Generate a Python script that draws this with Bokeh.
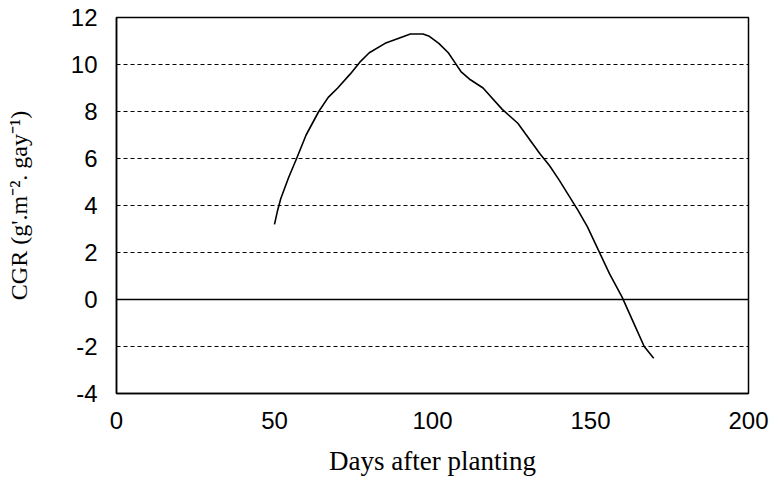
from bokeh.plotting import figure
from bokeh.models import FixedTicker, Span, Range1d
from bokeh.embed import file_html
from bokeh.resources import INLINE

days = [50, 51, 52, 54.5, 57, 60, 64, 67, 70, 74, 77, 80, 85, 90, 93, 95, 97, 99, 102, 105, 107, 109,
        112, 116, 122, 127, 134, 137, 140, 143, 146, 149, 152.5, 156, 160, 164, 167, 170]
cgr = [3.2, 3.8, 4.3, 5.2, 6.0, 7.0, 8.0, 8.6, 9.0, 9.6, 10.1, 10.5, 10.9, 11.15, 11.3, 11.3, 11.3, 11.2,
       10.9, 10.5, 10.1, 9.7, 9.35, 9.0, 8.1, 7.5, 6.2, 5.7, 5.1, 4.45, 3.8, 3.1, 2.1, 1.1, 0.1, -1.1, -2.0, -2.5]

x_ticks = [0, 50, 100, 150, 200]
y_ticks = [-4, -2, 0, 2, 4, 6, 8, 10, 12]
y_tick_labels = {-4: "-4", -2: "-2", 0: "0", 2: "2", 4: "4", 6: "6", 8: "8", 10: "10", 12: "12"}
grid_lines = [-2, 2, 4, 6, 8, 10]

p = figure(width=772, height=483, output_backend="svg", toolbar_location=None,
           x_range=Range1d(0, 200), y_range=Range1d(-4, 12))
p.min_border_left = 116
p.min_border_right = 24
p.min_border_top = 17
p.min_border_bottom = 90
p.background_fill_color = "white"
p.border_fill_color = "white"
p.outline_line_color = "black"
p.outline_line_width = 1.5

p.xgrid.visible = False
p.ygrid.ticker = FixedTicker(ticks=grid_lines)
p.ygrid.grid_line_color = "black"
p.ygrid.grid_line_dash = "4 3"
p.ygrid.grid_line_width = 1

p.add_layout(Span(location=0, dimension="width", line_color="black", line_width=1.5))

p.line(days, cgr, line_color="black", line_width=1.6)

for ax in (p.xaxis, p.yaxis):
    ax.axis_line_color = "black"
    ax.axis_line_width = 1.5
    ax.major_tick_line_color = None
    ax.minor_tick_line_color = None
    ax.major_label_text_font = "Liberation Sans"
    ax.major_label_text_font_size = "24px"
    ax.major_label_text_color = "black"
    ax.axis_label_text_font = "Liberation Serif"
    ax.axis_label_text_font_style = "normal"
    ax.axis_label_text_color = "black"

p.xaxis.ticker = FixedTicker(ticks=x_ticks)
p.yaxis.ticker = FixedTicker(ticks=y_ticks)
p.yaxis.major_label_overrides = y_tick_labels
p.xaxis.major_label_standoff = 12
p.yaxis.major_label_standoff = 13
p.xaxis.axis_label = "Days after planting"
p.xaxis.axis_label_text_font_size = "27px"
p.xaxis.axis_label_standoff = 14
p.yaxis.axis_label = "CGR (g'.m\u207b\u00b2. gay\u207b\u00b9)"
p.yaxis.axis_label_text_font_size = "24px"
p.yaxis.axis_label_standoff = 36

open("out.html", "w").write(file_html(p, INLINE))
